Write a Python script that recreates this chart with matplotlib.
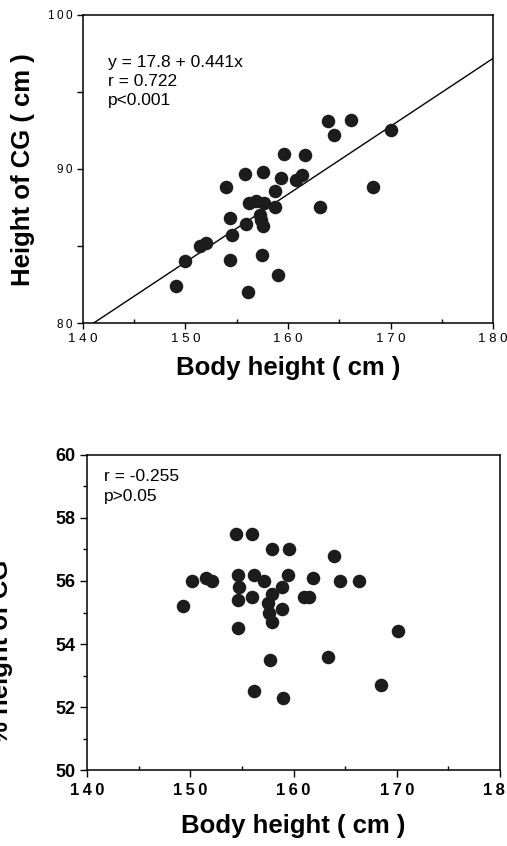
import matplotlib
matplotlib.use("Agg")
import matplotlib.pyplot as plt
from matplotlib.ticker import MultipleLocator, FuncFormatter

plt.rcParams['font.family'] = ['Liberation Sans', 'DejaVu Sans']

# --- datos ---
# panel superior: altura corporal vs altura del CG (cm)
talla_sup = [149.1, 150.0, 151.4, 152.0, 154.0, 154.3, 154.5, 154.3, 155.8, 155.9,
             156.1, 156.2, 156.9, 157.7, 157.6, 157.3, 157.4, 157.6, 157.5, 158.7,
             158.7, 159.0, 159.3, 159.6, 160.8, 161.4, 161.7, 163.1, 163.9, 164.5,
             166.1, 168.3, 170.0]
cg_cm = [82.4, 84.0, 85.0, 85.2, 88.8, 86.8, 85.7, 84.1, 89.7, 86.4,
         82.0, 87.8, 87.9, 87.8, 89.8, 87.0, 86.7, 86.3, 84.4, 88.6,
         87.5, 83.1, 89.4, 91.0, 89.3, 89.6, 90.9, 87.5, 93.1, 92.2,
         93.2, 88.8, 92.5]

# panel inferior: altura corporal vs % altura del CG
talla_inf = [149.3, 150.2, 151.5, 152.1, 154.4, 154.6, 154.7, 154.6, 154.6, 156.0,
             156.2, 156.0, 156.2, 157.1, 157.9, 157.9, 157.5, 157.6, 157.9, 157.7,
             158.9, 158.9, 159.0, 159.6, 159.5, 161.0, 161.5, 161.9, 163.9, 163.3,
             164.5, 166.3, 168.5, 170.1]
cg_pct = [55.2, 56.0, 56.1, 56.0, 57.5, 56.2, 55.8, 55.4, 54.5, 57.5,
          56.2, 55.5, 52.5, 56.0, 57.0, 55.6, 55.3, 55.0, 54.7, 53.5,
          55.8, 55.1, 52.3, 57.0, 56.2, 55.5, 55.5, 56.1, 56.8, 53.6,
          56.0, 56.0, 52.7, 54.4]

# recta de regresion
a, b = 17.8, 0.441
texto_sup = "y = 17.8 + 0.441x\nr = 0.722\np<0.001"
texto_inf = "r = -0.255\np>0.05"

color_punto = "#1c1c1c"


# etiquetas con letras separadas, como en la figura original
def espaciado(sep):
    return FuncFormatter(lambda v, pos: sep.join(str(int(round(v)))))


fig = plt.figure(figsize=(5.07, 8.46), dpi=100)

# --- panel superior ---
ax1 = fig.add_axes([0.1637, 0.6182, 0.8087, 0.3641])
ax1.scatter(talla_sup, cg_cm, s=95, color=color_punto, zorder=3, linewidths=0)
xs = [140, 180]
ax1.plot(xs, [a + b * x for x in xs], color="black", lw=1.0, zorder=2)
ax1.set_xlim(140, 180)
ax1.set_ylim(80, 100)
ax1.xaxis.set_major_locator(MultipleLocator(10))
ax1.xaxis.set_minor_locator(MultipleLocator(5))
ax1.yaxis.set_major_locator(MultipleLocator(10))
ax1.yaxis.set_minor_locator(MultipleLocator(5))
ax1.xaxis.set_major_formatter(espaciado(" "))
ax1.yaxis.set_major_formatter(espaciado("\u2009"))
ax1.tick_params(axis='x', which='major', direction='out', length=4, width=1, labelsize=9.5, pad=3)
ax1.tick_params(axis='x', which='minor', direction='in', length=3, width=1)
ax1.tick_params(axis='y', which='both', direction='out', length=4, width=1, labelsize=8.5)
ax1.text(0.06, 0.87, texto_sup, transform=ax1.transAxes, fontsize=12.5,
         va='top', ha='left', linespacing=1.35)
ax1.set_xlabel("Body height ( cm )", fontsize=18.5, fontweight='bold', labelpad=8)
fig.text(0.045, 0.80, "Height of CG ( cm )", rotation=90, fontsize=18.5,
         fontweight='bold', ha='center', va='center')

# --- panel inferior ---
ax2 = fig.add_axes([0.1716, 0.0898, 0.8146, 0.3724])
ax2.scatter(talla_inf, cg_pct, s=95, color=color_punto, zorder=3, linewidths=0)
ax2.set_xlim(140, 180)
ax2.set_ylim(50, 60)
ax2.xaxis.set_major_locator(MultipleLocator(10))
ax2.xaxis.set_minor_locator(MultipleLocator(5))
ax2.yaxis.set_major_locator(MultipleLocator(2))
ax2.yaxis.set_minor_locator(MultipleLocator(1))
ax2.xaxis.set_major_formatter(espaciado("\u2009"))
ax2.tick_params(axis='x', which='major', direction='out', length=5, width=1, pad=4)
ax2.tick_params(axis='x', which='minor', direction='in', length=3, width=1)
ax2.tick_params(axis='y', which='major', direction='out', length=5, width=1)
ax2.tick_params(axis='y', which='minor', direction='out', length=3, width=1)
for lab in ax2.get_xticklabels():
    lab.set_fontsize(12)
    lab.set_fontweight('bold')
for lab in ax2.get_yticklabels():
    lab.set_fontsize(13)
    lab.set_fontweight('bold')
ax2.text(0.04, 0.955, texto_inf, transform=ax2.transAxes, fontsize=12.5,
         va='top', ha='left', linespacing=1.4)
ax2.set_xlabel("Body height ( cm )", fontsize=18.5, fontweight='bold', labelpad=12)
fig.text(0.002, 0.23, "% height of CG", rotation=90, fontsize=18.5,
         fontweight='bold', ha='center', va='center')

for ax in (ax1, ax2):
    for sp in ax.spines.values():
        sp.set_linewidth(1.1)

fig.savefig("out.png", dpi=100)
